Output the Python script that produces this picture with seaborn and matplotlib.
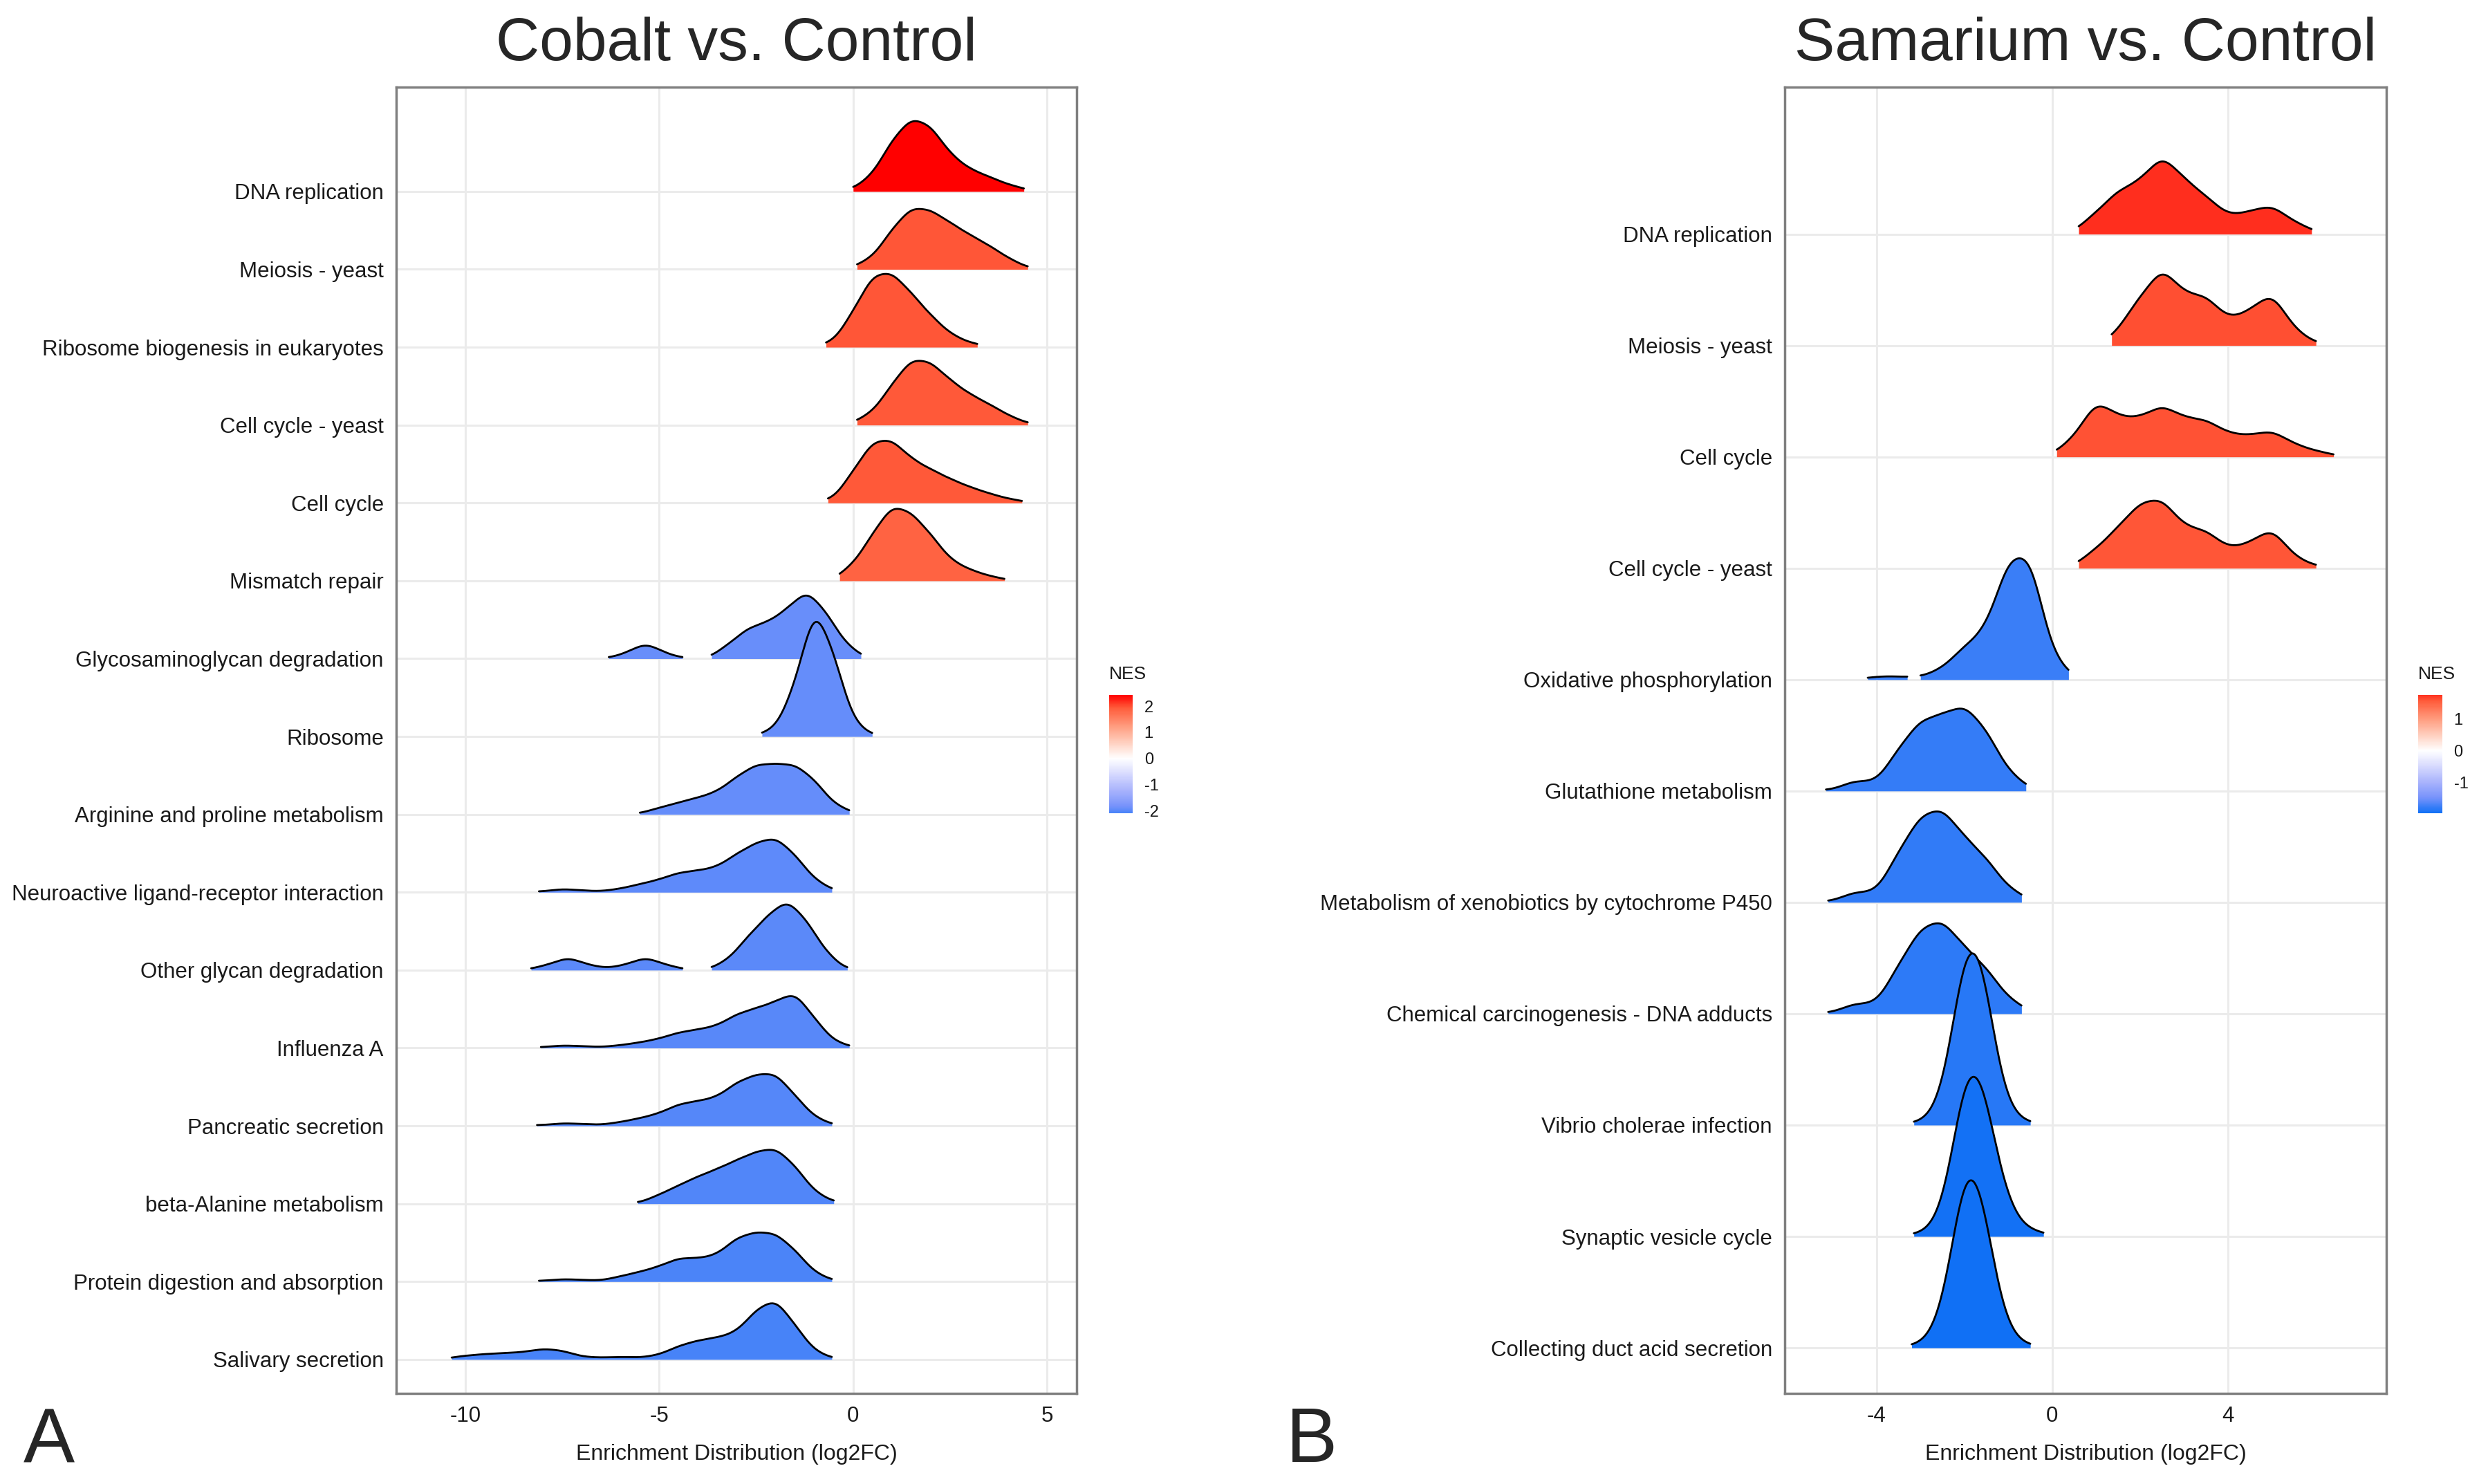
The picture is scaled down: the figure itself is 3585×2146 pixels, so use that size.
import numpy as np
import matplotlib
matplotlib.use("Agg")
import matplotlib.pyplot as plt
import matplotlib.transforms as mtransforms
from matplotlib.colors import LinearSegmentedColormap, Normalize
from matplotlib.cm import ScalarMappable
import seaborn as sns

# Panel A: Cobalt vs. Control, pathways ordered by NES (top to bottom).
cobalt_pathways = [
    "DNA replication", "Meiosis - yeast", "Ribosome biogenesis in eukaryotes",
    "Cell cycle - yeast", "Cell cycle", "Mismatch repair",
    "Glycosaminoglycan degradation", "Ribosome",
    "Arginine and proline metabolism",
    "Neuroactive ligand-receptor interaction", "Other glycan degradation",
    "Influenza A", "Pancreatic secretion", "beta-Alanine metabolism",
    "Protein digestion and absorption", "Salivary secretion",
]
cobalt_nes = [2.43, 1.97, 1.96, 1.95, 1.94, 1.85,
              -1.90, -1.92, -1.93, -1.97, -1.99, -2.01, -2.03, -2.05, -2.07,
              -2.10]
# log2FC of core genes (binned) and how many genes sit in each bin.
cobalt_fc = [
    [0.0, 0.5, 1.0, 1.5, 2.0, 2.5, 3.0, 3.5, 4.0, 4.4],
    [0.1, 0.5, 1.0, 1.5, 2.0, 2.5, 3.0, 3.5, 4.0, 4.5],
    [-0.7, -0.5, 0.0, 0.5, 1.0, 1.5, 2.0, 2.5, 3.0, 3.2],
    [0.1, 0.5, 1.0, 1.5, 2.0, 2.5, 3.0, 3.5, 4.0, 4.5],
    [-0.65, -0.5, 0.0, 0.5, 1.0, 1.5, 2.0, 2.5, 3.0, 3.5, 4.0, 4.35],
    [-0.35, 0.0, 0.5, 1.0, 1.5, 2.0, 2.5, 3.0, 3.5, 3.9],
    [-6.3, -5.8, -5.35, -4.9, -4.4,
     -3.65, -3.2, -2.7, -2.2, -1.7, -1.2, -0.7, -0.2, 0.2],
    [-2.35, -2.0, -1.5, -1.0, -0.5, 0.0, 0.49],
    [-5.5, -5.0, -4.5, -4.0, -3.5, -3.0, -2.5, -2.0, -1.5, -1.0, -0.5, -0.1],
    [-8.1, -7.5, -7.0, -6.5, -6.0, -5.5, -5.0, -4.5, -4.0, -3.5, -3.0, -2.5,
     -2.0, -1.5, -1.0, -0.55],
    [-8.3, -7.85, -7.35, -6.85, -6.35, -5.85, -5.35, -4.85, -4.4,
     -3.65, -3.2, -2.7, -2.2, -1.7, -1.2, -0.7, -0.15],
    [-8.05, -7.5, -7.0, -6.5, -6.0, -5.5, -5.0, -4.5, -4.0, -3.5, -3.0, -2.5,
     -2.0, -1.5, -1.0, -0.5, -0.1],
    [-8.15, -7.5, -7.0, -6.5, -6.0, -5.5, -5.0, -4.5, -4.0, -3.5, -3.0, -2.5,
     -2.0, -1.5, -1.0, -0.55],
    [-5.55, -5.0, -4.5, -4.0, -3.5, -3.0, -2.5, -2.0, -1.5, -1.0, -0.5],
    [-8.1, -7.5, -7.0, -6.5, -6.0, -5.5, -5.0, -4.5, -4.0, -3.5, -3.0, -2.5,
     -2.0, -1.5, -1.0, -0.55],
    [-10.35, -10.0, -9.5, -9.0, -8.5, -8.0, -7.5, -7.0, -6.5, -6.0, -5.5,
     -5.0, -4.5, -4.0, -3.5, -3.0, -2.5, -2.0, -1.5, -1.0, -0.55],
]
cobalt_genes = [
    [3, 20, 62, 90, 80, 45, 27, 18, 8, 2],
    [3, 14, 50, 78, 74, 58, 43, 30, 14, 2],
    [1, 6, 45, 92, 95, 68, 40, 17, 5, 1],
    [3, 15, 50, 82, 78, 55, 38, 26, 12, 2],
    [1, 4, 40, 78, 80, 55, 42, 30, 20, 12, 5, 1],
    [2, 20, 58, 95, 85, 58, 26, 14, 6, 1],
    [1, 7, 19, 7, 1, 1, 18, 38, 44, 60, 85, 57, 18, 1],
    [1, 5, 36, 98, 60, 10, 1],
    [1, 8, 14, 20, 27, 45, 60, 60, 60, 42, 12, 2],
    [1, 4, 2, 1, 4, 9, 14, 22, 24, 28, 43, 55, 62, 42, 14, 2],
    [1, 6, 15, 6, 2, 6, 15, 6, 1, 1, 12, 38, 60, 79, 55, 20, 1],
    [1, 3, 2, 1, 3, 6, 10, 17, 20, 24, 37, 43, 50, 62, 32, 7, 1],
    [1, 3, 2, 1, 4, 8, 13, 23, 26, 30, 46, 54, 56, 32, 9, 1],
    [1, 10, 20, 30, 38, 48, 57, 62, 42, 13, 2],
    [1, 3, 2, 1, 6, 11, 17, 27, 26, 30, 50, 56, 55, 36, 10, 1],
    [1, 4, 6, 7, 8, 12, 10, 3, 2, 3, 2, 5, 15, 21, 24, 30, 55, 68, 38, 9, 1],
]
# stretches with no genes, where the ridge is broken
cobalt_gaps = {
    "Glycosaminoglycan degradation": (-4.4, -3.65),
    "Other glycan degradation": (-4.4, -3.65),
}

# Panel B: Samarium vs. Control
samarium_pathways = [
    "DNA replication", "Meiosis - yeast", "Cell cycle", "Cell cycle - yeast",
    "Oxidative phosphorylation", "Glutathione metabolism",
    "Metabolism of xenobiotics by cytochrome P450",
    "Chemical carcinogenesis - DNA adducts", "Vibrio cholerae infection",
    "Synaptic vesicle cycle", "Collecting duct acid secretion",
]
samarium_nes = [1.75, 1.62, 1.60, 1.58,
                -1.75, -1.78, -1.80, -1.82, -1.85, -1.93, -1.96]
samarium_fc = [
    [0.6, 1.0, 1.5, 2.0, 2.5, 3.0, 3.5, 4.0, 4.5, 5.0, 5.5, 5.9],
    [1.35, 1.6, 2.0, 2.5, 3.0, 3.5, 4.0, 4.5, 5.0, 5.5, 6.0],
    [0.1, 0.5, 1.0, 1.5, 2.0, 2.5, 3.0, 3.5, 4.0, 4.5, 5.0, 5.5, 6.0, 6.4],
    [0.6, 1.0, 1.5, 2.0, 2.5, 3.0, 3.5, 4.0, 4.5, 5.0, 5.5, 6.0],
    [-4.2, -3.9, -3.6, -3.3,
     -3.0, -2.5, -2.0, -1.5, -1.0, -0.5, 0.0, 0.37],
    [-5.15, -4.5, -4.0, -3.5, -3.0, -2.5, -2.0, -1.5, -1.0, -0.6],
    [-5.1, -4.5, -4.0, -3.5, -3.0, -2.5, -2.0, -1.5, -1.0, -0.7],
    [-5.1, -4.5, -4.0, -3.5, -3.0, -2.5, -2.0, -1.5, -1.0, -0.7],
    [-3.15, -2.8, -2.4, -2.0, -1.6, -1.2, -0.8, -0.5],
    [-3.15, -2.8, -2.4, -2.0, -1.6, -1.2, -0.8, -0.45, -0.2],
    [-3.2, -2.8, -2.4, -2.0, -1.6, -1.2, -0.8, -0.5],
]
samarium_genes = [
    [2, 18, 37, 44, 68, 46, 32, 15, 19, 25, 10, 2],
    [2, 12, 40, 70, 44, 44, 22, 30, 48, 14, 2],
    [2, 16, 50, 34, 33, 45, 33, 32, 20, 18, 23, 11, 5, 1],
    [2, 17, 36, 58, 62, 36, 34, 17, 22, 37, 10, 2],
    [1, 2, 2, 1, 2, 10, 30, 45, 110, 115, 20, 2],
    [1, 10, 7, 38, 64, 68, 78, 55, 17, 2],
    [1, 10, 8, 45, 78, 85, 58, 40, 12, 2],
    [1, 10, 8, 44, 78, 86, 60, 42, 13, 2],
    [1, 2, 18, 90, 85, 16, 2, 1],
    [1, 2, 16, 85, 82, 28, 6, 2, 1],
    [1, 3, 22, 90, 75, 16, 2, 1],
]
samarium_gaps = {"Oxidative phosphorylation": (-3.3, -3.0)}

sns.set_theme(style="white")
plt.rcParams["font.family"] = ["Liberation Sans", "DejaVu Sans"]
plt.rcParams["axes.unicode_minus"] = False

# blue - white - red, mixed roughly like ggplot's Lab interpolation
nes_cmap = LinearSegmentedColormap.from_list("nes", [
    (0.0, "#1070F5"), (0.125, "#7893FB"), (0.25, "#AAB4FC"),
    (0.375, "#D6D9FE"), (0.5, "#FFFFFF"), (0.625, "#FFCFBF"),
    (0.75, "#FF9E81"), (0.9, "#FF5B3A"), (1.0, "#FF0000"),
])

FONT = 22.5


def ridge_panel(ax, pathways, nes, fc, genes, gaps, bw, scale, xlim, ylim,
                xticks, title):
    lim = max(abs(v) for v in nes)
    norm = Normalize(-lim, lim)
    rows = len(pathways)
    for i, name in enumerate(pathways):
        x = np.asarray(fc[i], float)
        w = np.asarray(genes[i], float)
        # fixed kernel width in log2FC units
        bw_method = bw / np.sqrt(np.cov(x, aweights=w))
        tr = (mtransforms.Affine2D().scale(1, scale).translate(0, rows - i)
              + ax.transData)
        segs = [(x.min(), x.max())]
        if name in gaps:
            segs = [(x.min(), gaps[name][0]), (gaps[name][1], x.max())]
        for lo, hi in segs:
            sns.kdeplot(x=x, weights=w, bw_method=bw_method, cut=0,
                        clip=(lo, hi), fill=True, alpha=1, linewidth=0,
                        color=nes_cmap(norm(nes[i])), transform=tr,
                        zorder=2 + i * 0.1, ax=ax)
            sns.kdeplot(x=x, weights=w, bw_method=bw_method, cut=0,
                        clip=(lo, hi), color="black", linewidth=2.0,
                        transform=tr, zorder=2.05 + i * 0.1, ax=ax)
    ax.set_xlim(xlim)
    ax.set_ylim(ylim)
    ax.set_xticks(xticks)
    ax.set_yticks(range(rows, 0, -1))
    ax.set_yticklabels(pathways)
    ax.grid(True, color="#EBEBEB", linewidth=2.2)
    ax.set_axisbelow(True)
    for s in ax.spines.values():
        s.set_color("#7F7F7F")
        s.set_linewidth(2.5)
    ax.tick_params(length=0, labelsize=FONT, pad=13, colors="#1A1A1A")
    ax.set_ylabel("")
    ax.set_xlabel("Enrichment Distribution (log2FC)", fontsize=23,
                  labelpad=18, color="#1A1A1A")
    ax.set_title(title, fontsize=63, pad=28)
    return norm


def nes_bar(fig, rect, norm, nes, ticks):
    cax = fig.add_axes(rect)
    sm = ScalarMappable(norm=norm, cmap=nes_cmap)
    cb = fig.colorbar(sm, cax=cax,
                      boundaries=np.linspace(min(nes), max(nes), 256))
    cb.set_ticks(ticks)
    cb.outline.set_visible(False)
    cax.tick_params(length=0, labelsize=17, pad=12, colors="#1A1A1A")
    fig.text(rect[0], rect[1] + rect[3] + 0.014, "NES", fontsize=19,
             ha="left", va="center", color="#1A1A1A")


fig = plt.figure(figsize=(35.85, 21.46), dpi=100)
fig.patch.set_facecolor("white")
axA = fig.add_axes([0.1598, 0.0610, 0.2745, 0.8803])
axB = fig.add_axes([0.7199, 0.0610, 0.2427, 0.8803])

normA = ridge_panel(axA, cobalt_pathways, cobalt_nes, cobalt_fc,
                    cobalt_genes, cobalt_gaps, bw=0.3, scale=1.9,
                    xlim=(-11.78, 5.76), ylim=(0.563, 17.34),
                    xticks=[-10, -5, 0, 5], title="Cobalt vs. Control")
normB = ridge_panel(axB, samarium_pathways, samarium_nes, samarium_fc,
                    samarium_genes, samarium_gaps, bw=0.3, scale=1.72,
                    xlim=(-6.09, 7.6), ylim=(0.59, 12.32),
                    xticks=[-4, 0, 4], title="Samarium vs. Control")

nes_bar(fig, [0.4474, 0.452, 0.0095, 0.0797], normA, cobalt_nes,
        [-2, -1, 0, 1, 2])
nes_bar(fig, [0.9755, 0.452, 0.0097, 0.0797], normB, samarium_nes,
        [-1, 0, 1])

fig.text(0.0198, 0.0284, "A", fontsize=80, ha="center", va="center")
fig.text(0.529, 0.0284, "B", fontsize=80, ha="center", va="center")

fig.savefig("out.png", dpi=100)
